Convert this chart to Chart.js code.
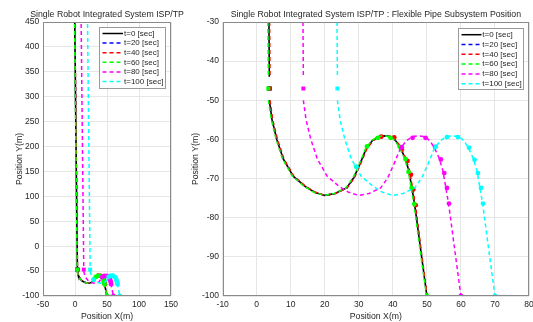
<!DOCTYPE html>
<html><head><meta charset="utf-8">
<script src="https://cdn.jsdelivr.net/npm/chart.js@4.4.1/dist/chart.umd.min.js"></script>
<style>
html,body{margin:0;padding:0;background:#fff;}
#wrap{position:relative;width:533px;height:322px;overflow:hidden;}
canvas{position:absolute;left:0;top:0;}
</style></head><body>
<div id="wrap"><canvas id="c1" width="533" height="322"></canvas><canvas id="c2" width="533" height="322"></canvas></div>
<script>
// ---- data ----
const seriesLabels = ['t=0 [sec]','t=20 [sec]','t=40 [sec]','t=60 [sec]','t=80 [sec]','t=100 [sec]'];
const pipeY      = [460, -44, null, -50, -55, -60, -65, -69.4, -72, -73.5, -74.3, -73.8, -72.4, -69.8, -66.3, -62.3, -60.3, -59.3, -59.1, -59.3, -60.5, -62.3, -64.8, -68, -71.5, -75, -78.5, -89, -100];
const pipeX_t0   = [-0.5, 3.7, null, 3.7, 4.5, 5.9, 7.8, 10.7, 14.2, 17.0, 20.0, 23.0, 26.4, 28.5, 30.3, 32.2, 34.0, 35.7, 37.5, 39.6, 41.0, 42.3, 43.6, 44.7, 45.4, 46.1, 46.7, 48.3, 50.0];
const pipeX_t20  = [-0.5, 3.7, null, 3.7, 4.5, 5.9, 7.8, 10.7, 14.2, 17.0, 20.0, 23.0, 26.4, 28.5, 30.3, 32.2, 34.0, 35.7, 37.5, 39.6, 41.0, 42.3, 43.6, 44.7, 45.4, 46.1, 46.7, 48.3, 50.0];
const pipeX_t40  = [-0.3, 3.9, null, 3.9, 4.7, 6.1, 8.0, 10.9, 14.4, 17.2, 20.2, 23.2, 26.6, 28.7, 30.5, 32.4, 34.2, 35.9, 37.7, 39.8, 41.2, 42.5, 43.8, 44.9, 45.6, 46.3, 46.9, 48.4, 50.1];
const pipeX_t60  = [-0.8, 3.4, null, 3.4, 4.3, 5.7, 7.6, 10.5, 14.0, 16.8, 19.8, 22.8, 26.2, 28.3, 30.1, 32.0, 33.8, 35.5, 37.3, 39.4, 40.8, 42.1, 43.4, 44.5, 45.2, 45.9, 46.5, 48.1, 49.9];
const pipeX_t80  = [9.5, 13.7, null, 13.7, 14.5, 15.9, 17.8, 20.7, 24.2, 27.0, 30.0, 33.0, 36.4, 38.5, 40.3, 42.2, 44.0, 45.7, 47.5, 49.6, 51.0, 52.3, 53.6, 54.7, 55.4, 56.1, 56.7, 58.3, 60.0];
const pipeX_t100 = [19.5, 23.7, null, 23.7, 24.5, 25.9, 27.8, 30.7, 34.2, 37.0, 40.0, 43.0, 46.4, 48.5, 50.3, 52.2, 54.0, 55.7, 57.5, 59.6, 61.0, 62.3, 63.6, 64.7, 65.4, 66.1, 66.7, 68.3, 70.0];
// square marker (one per series) at the top of the curved part
const hubX = [3.7, 3.7, 3.9, 3.4, 13.7, 23.7];
const hubY = [-47, -47, -47, -47, -47, -47];
// circle node markers
const nodeX_t40  = [36.6, 40.4, 42.6, 44.3, 45.3, 46.0, 46.7];
const nodeY_t40  = [-59.3, -59.5, -62.5, -65.5, -69.0, -72.8, -76.8];
const nodeX_t60  = [29.3, 32.4, 35.6, 39.3, 42.0, 43.7, 44.6, 45.5, 46.3, 50.0];
const nodeY_t60  = [-67.0, -61.8, -59.6, -59.6, -61.9, -65.0, -68.3, -72.4, -76.5, -100];
const nodeX_t80  = [42.6, 45.8, 49.6, 52.4, 54.1, 55.1, 55.9, 56.5, 60.0];
const nodeY_t80  = [-62.0, -59.6, -59.6, -61.9, -65.1, -68.6, -72.4, -76.4, -100];
const nodeX_t100 = [29.3, 52.6, 55.9, 59.1, 62.4, 64.0, 65.0, 65.9, 66.5, 70.0];
const nodeY_t100 = [-67.0, -61.9, -59.4, -59.4, -62.1, -65.2, -68.6, -72.4, -76.4, -100];

// ---- styles ----
const seriesColors = ['#000000','#0000ff','#ff0000','#00ff00','#ff00ff','#00ffff'];
const seriesX = [pipeX_t0, pipeX_t20, pipeX_t40, pipeX_t60, pipeX_t80, pipeX_t100];
const nodesX = [null, null, nodeX_t40, nodeX_t60, nodeX_t80, nodeX_t100];
const nodesY = [null, null, nodeY_t40, nodeY_t60, nodeY_t80, nodeY_t100];
const FONT = "'Liberation Sans', Arial, Helvetica, sans-serif";
const TXT = '#262626';

function pts(xs, ys) { return xs.map((x, i) => ({x: x, y: ys[i]})); }

function buildDatasets() {
  const ds = [];
  seriesLabels.forEach((lab, i) => {
    const c = seriesColors[i];
    ds.push({
      label: lab, data: pts(seriesX[i], pipeY), showLine: true, spanGaps: false,
      borderColor: c, backgroundColor: c, borderWidth: i === 0 ? 1.6 : 1.5,
      borderDash: i === 0 ? [] : [4, 3], pointRadius: 0, order: 100 - 3 * i
    });
    ds.push({
      label: lab + ' hub', data: [{x: hubX[i], y: hubY[i]}], showLine: false,
      pointStyle: 'rect', pointRadius: 2.8, pointBackgroundColor: c, pointBorderColor: c,
      pointBorderWidth: 0, order: 99 - 3 * i
    });
    if (nodesX[i]) {
      ds.push({
        label: lab + ' nodes', data: pts(nodesX[i], nodesY[i]), showLine: false,
        pointStyle: 'circle', pointRadius: 2.4, pointBackgroundColor: c, pointBorderColor: c,
        pointBorderWidth: 0, order: 98 - 3 * i
      });
    }
  });
  return ds;
}

const deco = {
  id: 'deco',
  afterDraw(chart, args, o) {
    const {ctx, chartArea: a} = chart;
    ctx.save();
    // box
    ctx.strokeStyle = '#8a8a8a'; ctx.lineWidth = 1;
    const l = Math.round(a.left) + 0.5, t = Math.round(a.top) + 0.5;
    const r = Math.round(a.right) - 0.5, b = Math.round(a.bottom) - 0.5;
    ctx.strokeRect(l, t, r - l, b - t);
    // title
    ctx.fillStyle = TXT; ctx.font = '8.75px ' + FONT;
    ctx.textAlign = 'center'; ctx.textBaseline = 'middle';
    ctx.fillText(o.title, (a.left + a.right) / 2, o.titleY);
    // legend
    const L = o.legend;
    ctx.fillStyle = '#ffffff'; ctx.fillRect(L.x, L.y, L.w, L.h);
    ctx.strokeStyle = '#9a9a9a'; ctx.lineWidth = 1;
    ctx.strokeRect(L.x + 0.5, L.y + 0.5, L.w, L.h);
    ctx.font = '8px ' + FONT; ctx.textAlign = 'left'; ctx.textBaseline = 'middle';
    seriesLabels.forEach((lab, i) => {
      const y = L.row0 + i * L.step;
      ctx.beginPath();
      ctx.setLineDash(i === 0 ? [] : [4, 3]);
      ctx.strokeStyle = seriesColors[i]; ctx.lineWidth = 1.5;
      ctx.moveTo(L.x0, y); ctx.lineTo(L.x1, y); ctx.stroke();
      ctx.setLineDash([]);
      ctx.fillStyle = TXT; ctx.fillText(lab, L.tx, y);
    });
    ctx.restore();
  }
};

function makeChart(id, cfg) {
  return new Chart(document.getElementById(id), {
    type: 'scatter',
    data: {datasets: buildDatasets()},
    options: {
      responsive: false, animation: false, devicePixelRatio: 1,
      layout: {padding: {left: cfg.padL, right: cfg.padR, top: 22, bottom: 0}},
      plugins: {legend: {display: false}, tooltip: {enabled: false}, title: {display: false},
        deco: {title: cfg.title, titleY: 14.5, legend: cfg.legend}},
      scales: {
        x: {type: 'linear', min: cfg.xMin, max: cfg.xMax,
          ticks: {stepSize: cfg.xStep, autoSkip: false, maxRotation: 0, padding: 4,
            font: {family: FONT, size: 8.5}, color: TXT},
          grid: {color: '#e6e6e6', drawTicks: false}, border: {display: false},
          title: {display: true, text: 'Position X(m)', color: TXT, font: {family: FONT, size: 8.7}, padding: {top: 0, bottom: 0}},
          afterFit: s => { s.height = 26; s.paddingLeft = 0; s.paddingRight = 0; }
        },
        y: {type: 'linear', min: cfg.yMin, max: cfg.yMax,
          ticks: {stepSize: cfg.yStep, autoSkip: false, padding: 3.7,
            font: {family: FONT, size: 8.5}, color: TXT},
          grid: {color: '#e6e6e6', drawTicks: false}, border: {display: false},
          title: {display: true, text: 'Position Y(m)', color: TXT, font: {family: FONT, size: 8.7}, padding: {top: cfg.yTitlePad, bottom: 0}},
          afterFit: s => { s.width = cfg.yW; s.paddingTop = 0; s.paddingBottom = 0; }
        }
      }
    },
    plugins: [deco]
  });
}

makeChart('c1', {
  padL: 0, padR: 362, yW: 43, yTitlePad: 14.8,
  xMin: -50, xMax: 150, xStep: 50, yMin: -100, yMax: 450, yStep: 50,
  title: 'Single Robot Integrated System ISP/TP',
  legend: {x: 99, y: 27, w: 66, h: 61, row0: 33.5, step: 9.6, x0: 102.5, x1: 123, tx: 124}
});
makeChart('c2', {
  padL: 185, padR: 3.7, yW: 37.7, yTitlePad: 5.6,
  xMin: -10, xMax: 80, xStep: 10, yMin: -100, yMax: -30, yStep: 10,
  title: 'Single Robot Integrated System ISP/TP : Flexible Pipe Subsystem Position',
  legend: {x: 458, y: 28, w: 65, h: 61, row0: 34.7, step: 9.8, x0: 461.5, x1: 481.5, tx: 482.3}
});
</script>
</body></html>
